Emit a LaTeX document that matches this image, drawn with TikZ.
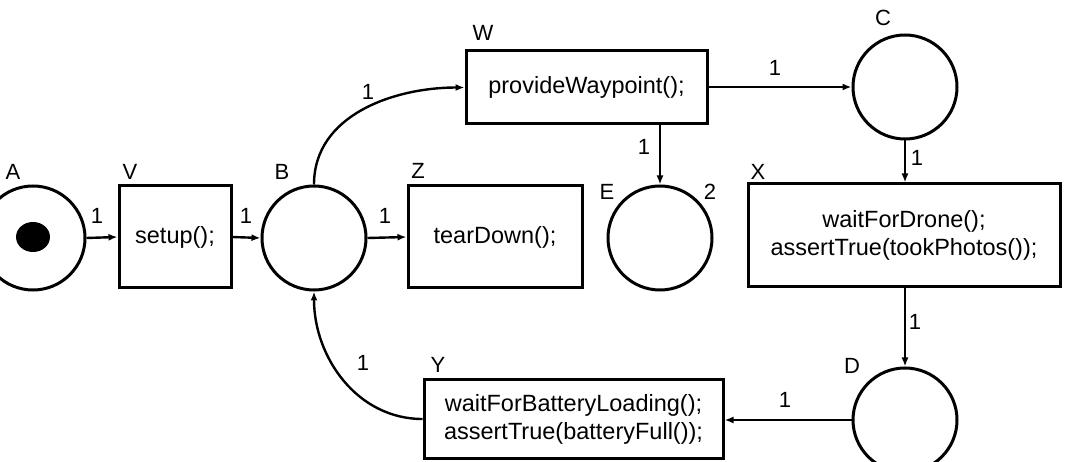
\documentclass[tikz,border=0pt]{standalone}
\usepackage{fontspec}
\setmainfont{Liberation Sans}
\usetikzlibrary{arrows.meta,shapes.geometric}
\begin{document}
\begin{tikzpicture}[x=1pt,y=-1pt,
  place/.style={circle,draw,line width=3pt,minimum size=104pt,inner sep=0pt},
  trans/.style={rectangle,draw,line width=3pt,inner sep=0pt,align=center,font=\fontsize{23.5}{28}\selectfont},
  arc/.style={line width=2.4pt,-{Latex[length=9pt,width=7pt]}},
  lbl/.style={inner sep=0pt,font=\fontsize{22}{24}\selectfont},
]
\useasboundingbox (0,0) rectangle (1066,462);
% places
\node[place] (A) at (33,238) {};
\node[ellipse,fill=black,minimum width=34pt,minimum height=30pt,inner sep=0pt] (tok) at (33,237) {};
\node[place] (B) at (314,238) {};
\node[place] (E) at (660,238) {};
\node[place] (C) at (905,87) {};
\node[place] (D) at (905,420) {};
% transitions
\node[trans,minimum width=112pt,minimum height=102pt] (V) at (175,237) {setup();};
\node[trans,minimum width=174pt,minimum height=102pt] (Z) at (495,237) {tearDown();};
\node[trans,minimum width=241pt,minimum height=73pt] (W) at (586.5,87.5) {provideWaypoint();};
\node[trans,minimum width=312pt,minimum height=103pt] (X) at (904,235.5) {waitForDrone();\\assertTrue(tookPhotos());};
\node[trans,minimum width=299pt,minimum height=78pt] (Y) at (573.5,419) {waitForBatteryLoading();\\assertTrue(batteryFull());};
% names
\node[lbl] (nA) at (13,172) {A};
\node[lbl] (nV) at (130,172) {V};
\node[lbl] (nB) at (282,172) {B};
\node[lbl] (nZ) at (418,171) {Z};
\node[lbl] (nW) at (483,33) {W};
\node[lbl] (nE) at (607,192) {E};
\node[lbl] (n2) at (710,192) {2};
\node[lbl] (nC) at (883,18) {C};
\node[lbl] (nX) at (758,172) {X};
\node[lbl] (nD) at (852,366) {D};
\node[lbl] (nY) at (438,365) {Y};
% arcs
\draw[arc] (A.east) -- (V.west);
\draw[arc] (V.east) -- (B.west);
\draw[arc] (B.east) -- (Z.west);
\draw[arc] (B.north) to[out=90,in=180] (W.west);
\draw[arc] (W.east |- C.west) -- (C.west);
\draw[arc] (W.south -| E.north) -- (E.north);
\draw[arc] (C.south) -- (C.south |- X.north);
\draw[arc] (X.south -| D.north) -- (D.north);
\draw[arc] (D.west) -- (D.west -| Y.east);
\draw[arc] (Y.west) to[out=180,in=-90] (B.south);
% weights
\node[lbl] (wAV) at (97,216) {1};
\node[lbl] (wVB) at (246,216) {1};
\node[lbl] (wBZ) at (385,216) {1};
\node[lbl] (wBW) at (368,92) {1};
\node[lbl] (wWC) at (775,68) {1};
\node[lbl] (wWE) at (644,147) {1};
\node[lbl] (wCX) at (917,158) {1};
\node[lbl] (wXD) at (915,322) {1};
\node[lbl] (wDY) at (785,400) {1};
\node[lbl] (wYB) at (363,363) {1};
\end{tikzpicture}
\end{document}
